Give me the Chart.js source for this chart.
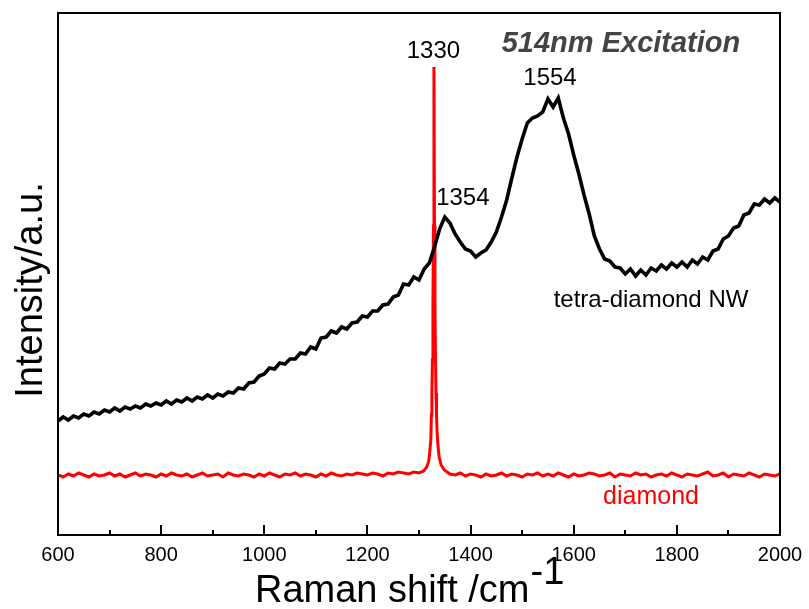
<!DOCTYPE html>
<html>
<head>
<meta charset="utf-8">
<script src="https://cdn.jsdelivr.net/npm/chart.js@4.4.1/dist/chart.umd.min.js"></script>
<style>
  html, body { margin: 0; padding: 0; background: #ffffff; }
  canvas { display: block; }
</style>
</head>
<body>
<canvas id="c" width="809" height="609"></canvas>
<script>
// ---------------- DATA ----------------
const xTickValues = [600, 800, 1000, 1200, 1400, 1600, 1800, 2000];
const minorTickValues = [700, 900, 1100, 1300, 1500, 1700, 1900];

// tetra-diamond NW spectrum, Raman shift 600..2000 cm-1 every 10 cm-1 (arbitrary units)
const nwShift = [];
for (let s = 600; s <= 2000; s += 10) nwShift.push(s);
const nwIntensity = [
  114,118,115,119,117,121,119,123,121,125,
  123,127,124,128,126,129,127,131,129,132,
  130,134,131,135,133,137,134,138,136,140,
  137,141,139,143,142,147,146,152,153,159,
  161,167,166,172,171,176,176,182,181,188,
  186,197,198,204,202,208,206,212,213,219,
  218,224,224,230,231,238,240,251,250,258,
  255,266,272,288,306,318,312,301,293,286,
  284,278,282,285,293,303,318,335,357,378,
  396,412,417,419,423,436,428,437,417,401,
  380,361,340,321,299,286,276,274,268,267,
  261,266,259,265,260,267,264,270,266,272,
  268,273,268,275,271,278,275,284,286,296,
  299,307,309,320,322,331,330,336,332,337,
  333
];

// diamond spectrum: baseline before the peak, the narrow 1330 peak, baseline after it
const diamondShiftLow = [];
for (let s = 600; s <= 1300; s += 10) diamondShiftLow.push(s);
const diamondIntensityLow = [
  60,58,61,59,62,60,58,61,59,60,
  62,59,61,58,60,62,59,61,60,58,
  61,59,62,60,59,61,58,60,62,59,
  60,61,58,62,60,59,61,60,58,61,
  59,62,60,58,61,60,62,59,61,60,
  58,61,59,62,60,59,61,60,62,61,
  60,62,61,59,62,61,63,62,61,63,
  62
];
const diamondShiftPeak = [1309,1315,1319,1321,1323,1324,1325,1326,1327,1328,1329,1330,1331,1332,1333,1334,1335,1337,1339,1343,1349];
const diamondIntensityPeak = [64,68,74,84,96,120,142,175,227,309,468,309,227,175,142,120,104,88,78,70,65];
const diamondShiftHigh = [];
for (let s = 1360; s <= 2000; s += 10) diamondShiftHigh.push(s);
const diamondIntensityHigh = [
  61,60,62,59,61,60,58,61,59,
  60,62,59,61,60,58,61,60,62,59,
  61,59,62,60,58,61,59,60,62,61,
  59,60,62,58,61,60,59,62,60,61,
  58,60,61,59,62,60,58,61,60,59,
  61,63,59,60,62,58,61,60,59,62,
  60,58,61,60,59,61
];

const peakLabels = [
  { text: '1330', shift: 1328, value: 484 },
  { text: '1554', shift: 1554, value: 457 },
  { text: '1354', shift: 1385, value: 337 }
];

// ---------------- BUILD ----------------
const toPoints = (xs, ys) => xs.map((x, i) => ({ x: x, y: ys[i] }));
const nwPoints = toPoints(nwShift, nwIntensity);
const diamondPoints = toPoints(diamondShiftLow, diamondIntensityLow)
  .concat(toPoints(diamondShiftPeak, diamondIntensityPeak))
  .concat(toPoints(diamondShiftHigh, diamondIntensityHigh));

const FONT = "'Liberation Sans', Arial, Helvetica, sans-serif";

const framePlugin = {
  id: 'frame',
  afterDraw(chart) {
    const ctx = chart.ctx;
    const a = chart.chartArea;
    const xs = chart.scales.x;
    const ys = chart.scales.y;
    ctx.save();
    // frame
    ctx.strokeStyle = '#000';
    ctx.lineWidth = 2;
    ctx.strokeRect(a.left, a.top, a.right - a.left, a.bottom - a.top);
    // inward ticks on bottom axis
    ctx.beginPath();
    xTickValues.forEach(v => {
      const px = Math.round(xs.getPixelForValue(v));
      ctx.moveTo(px, a.bottom);
      ctx.lineTo(px, a.bottom - 10);
    });
    minorTickValues.forEach(v => {
      const px = Math.round(xs.getPixelForValue(v));
      ctx.moveTo(px, a.bottom);
      ctx.lineTo(px, a.bottom - 5);
    });
    ctx.stroke();

    // peak labels
    ctx.fillStyle = '#000';
    ctx.font = '24px ' + FONT;
    ctx.textAlign = 'center';
    ctx.textBaseline = 'middle';
    peakLabels.forEach(p => {
      ctx.fillText(p.text, xs.getPixelForValue(p.shift), ys.getPixelForValue(p.value));
    });

    // excitation note
    ctx.fillStyle = '#444444';
    ctx.font = 'italic bold 29px ' + FONT;
    ctx.fillText('514nm Excitation', 621, 44);

    // series labels
    ctx.font = '24px ' + FONT;
    ctx.fillStyle = '#000';
    ctx.fillText('tetra-diamond NW', 651, 300);
    ctx.font = '25px ' + FONT;
    ctx.fillStyle = '#ff0000';
    ctx.fillText('diamond', 651, 497);

    // y axis title
    ctx.save();
    ctx.translate(42, 290);
    ctx.rotate(-Math.PI / 2);
    ctx.fillStyle = '#000';
    ctx.font = '38px ' + FONT;
    ctx.textAlign = 'center';
    ctx.textBaseline = 'alphabetic';
    ctx.fillText('Intensity/a.u.', 0, 0);
    ctx.restore();

    // x axis title with superscript
    ctx.fillStyle = '#000';
    ctx.font = '38px ' + FONT;
    ctx.textAlign = 'left';
    ctx.textBaseline = 'alphabetic';
    const main = 'Raman shift /cm';
    const w = ctx.measureText(main).width;
    const x0 = 255;
    ctx.fillText(main, x0, 602);
    ctx.fillText('-1', x0 + w + 1, 584);
    ctx.restore();
  }
};

new Chart(document.getElementById('c'), {
  type: 'line',
  data: {
    datasets: [
      {
        label: 'tetra-diamond NW',
        data: nwPoints,
        borderColor: '#000000',
        borderWidth: 3.6,
        pointRadius: 0,
        tension: 0,
        fill: false
      },
      {
        label: 'diamond',
        data: diamondPoints,
        borderColor: '#ff0000',
        borderWidth: 3,
        pointRadius: 0,
        tension: 0,
        fill: false
      }
    ]
  },
  options: {
    responsive: false,
    animation: false,
    devicePixelRatio: 1,
    layout: { padding: { left: 58, right: 29, top: 13, bottom: 0 } },
    plugins: {
      legend: { display: false },
      tooltip: { enabled: false },
      title: { display: false }
    },
    scales: {
      x: {
        type: 'linear',
        min: 600,
        max: 2000,
        afterBuildTicks(scale) {
          scale.ticks = xTickValues.map(v => ({ value: v }));
        },
        afterFit(scale) {
          scale.height = 74;
          scale.paddingLeft = 0;
          scale.paddingRight = 0;
        },
        grid: { display: false, drawTicks: false },
        border: { display: false },
        ticks: {
          padding: 8,
          color: '#000',
          font: { family: FONT, size: 20 },
          maxRotation: 0,
          autoSkip: false,
          callback: v => String(v)
        }
      },
      y: {
        type: 'linear',
        min: 0,
        max: 522,
        display: false
      }
    }
  },
  plugins: [framePlugin]
});
</script>
</body>
</html>
